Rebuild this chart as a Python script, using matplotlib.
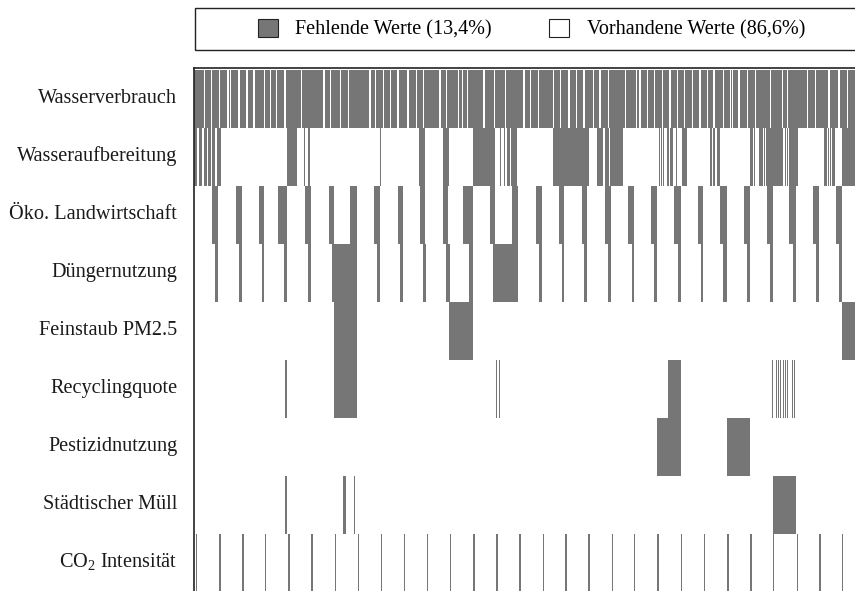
import matplotlib
matplotlib.use("Agg")
import matplotlib.pyplot as plt
from matplotlib.patches import Patch, Rectangle

plt.rcParams['font.family'] = ['Liberation Serif', 'DejaVu Serif']
plt.rcParams['mathtext.fontset'] = 'custom'
plt.rcParams['mathtext.rm'] = 'Liberation Serif'

GRAU = '#767676'
RAND = '#222222'

# 29 Laender x 23 Jahre, eine Spalte pro Beobachtung
N_OBS = 667

variablen = ['Wasserverbrauch', 'Wasseraufbereitung', 'Öko. Landwirtschaft',
             'Düngernutzung', 'Feinstaub PM2.5', 'Recyclingquote',
             'Pestizidnutzung', 'Städtischer Müll',
             r'CO$_\mathregular{2}$ Intensität']

legende = ['Fehlende Werte (13,4%)', 'Vorhandene Werte (86,6%)']

# Wasserverbrauch: fast alles fehlt, hier die wenigen vorhandenen Werte
wasser_vorhanden = [10, 16.7, 24.7, 33.3, 36, 44.3, 52.3, 59.3, 70, 76, 82, 90.3,
                    106.7, 129.3, 136, 146, 154, 175.3, 181, 188.7, 196, 203.3,
                    213.3, 222, 228.7, 245.3, 252, 264, 267.7, 273, 289.3, 300,
                    311, 329.3, 336, 343.7, 358.7, 366, 374.3, 381.7, 389.3,
                    398.7, 405.3, 413.7, 431, 442, 445.3, 452.7, 460, 467.7,
                    475.3, 482.7, 490, 497.7, 505.3, 512.7, 519.3, 528.7, 535.5,
                    537.5, 544.3, 552.7, 561, 576, 587.7, 592.7, 612.7, 621,
                    634.3, 644.3, 652.7]

# fehlende Werte als (von, bis) je Variable
aufbereitung_fehlt = [(0, 3), (4.5, 8), (9.5, 12.5), (14, 17), (18, 21), (22.5, 26.5),
                      (44.5, 45.1), (93.3, 102.7), (110, 110.6), (114.3, 116),
                      (186.3, 186.9), (225.3, 231), (248.7, 255.3), (279.3, 301),
                      (306, 307), (309.5, 310.5), (312.7, 316), (317, 323.3),
                      (348.8, 349.4), (358.7, 395.3), (403.3, 409.3), (410.5, 414.5),
                      (415.5, 429.3), (462.7, 463.2), (465, 465.5), (467, 467.5),
                      (469, 469.6), (472.7, 474.5), (476, 479.3), (482, 482.5),
                      (484.5, 485), (487.7, 493.3), (516, 517.5), (519, 521),
                      (523.3, 526), (529.5, 530.1), (556, 558.7), (559.5, 561),
                      (562.5, 563), (565.3, 568.7), (570, 570.6), (572, 589.3),
                      (591, 591.5), (593, 593.5), (595.3, 604.3), (624.5, 625),
                      (626.5, 627), (629.5, 632.5), (634, 634.5), (636, 636.5),
                      (638, 641), (647.7, 667)]
oeko_fehlt = [(17.7, 24.3), (41.7, 47.7), (65, 70), (83.7, 93.3), (111, 116.7),
              (134.7, 140), (156.3, 162.7), (180.3, 186), (203.7, 209.3), (226, 231),
              (249.3, 254.3), (269.3, 278.7), (296, 301), (317.7, 324.3), (342, 347.7),
              (365.3, 370.3), (387.7, 392.7), (411, 416.7), (434.3, 440), (456.7, 462.7),
              (480.3, 486.7), (503.7, 509.3), (526, 532.7), (550, 556), (573.3, 579.3),
              (595.3, 602), (618.7, 625), (642, 647.7)]
duenger_fehlt = [(21, 24.3), (45.3, 47.7), (67.7, 70), (90.3, 93.3), (113.7, 116.7),
                 (137.7, 162.7), (182.7, 186), (206, 209.3), (228.7, 232), (252, 256),
                 (275.3, 279.3), (298.7, 324.3), (345.3, 347.7), (367.7, 370.3),
                 (390.3, 393.3), (414.3, 417), (437.7, 440), (460, 462.7), (483.7, 486.7),
                 (506.7, 509.3), (529.3, 532.7), (552.7, 556), (576, 579.3), (598.7, 602),
                 (622, 625), (645.3, 648)]
feinstaub_fehlt = [(140, 162.7), (255.3, 279.3), (647.7, 667)]
recycling_fehlt = [(91, 92.5), (140, 162.7), (301.5, 302.6), (304.7, 305.8),
                   (474.3, 486.7), (493.5, 494.2), (578, 579), (580.5, 581.1),
                   (582, 583), (584, 584.5), (586, 587), (589, 589.5), (591, 592),
                   (593, 594), (595.5, 596.1), (597.5, 598.5), (599.5, 601),
                   (659.5, 660.2)]
pestizid_fehlt = [(209.5, 210.2), (463.3, 486.7), (532.7, 556)]
muell_fehlt = [(91, 92.5), (148.7, 151.8), (152.8, 153.3), (159.5, 161.3),
               (493.5, 494.2), (578.7, 601.7), (659.5, 660.2)]
co2_fehlt = [(x, x + 1.4) for x in
             [1.7, 25.3, 48.3, 71, 94.3, 117.3, 141, 163.7, 186.7, 210, 232.7, 256,
              279.3, 302.3, 325.3, 348.7, 371.3, 394.3, 417.7, 440, 463.3, 487, 510,
              533.3, 556.3, 578.7, 602.7, 625.3, 648]]

# Wasserverbrauch: Luecken zwischen den vorhandenen Werten
wasser_fehlt = []
start = 0
for v in wasser_vorhanden:
    wasser_fehlt.append((start, v))
    start = v + 1.2
wasser_fehlt.append((start, N_OBS))

zeilen = [wasser_fehlt, aufbereitung_fehlt, oeko_fehlt, duenger_fehlt, feinstaub_fehlt,
          recycling_fehlt, pestizid_fehlt, muell_fehlt, co2_fehlt]

fig = plt.figure(figsize=(8.55, 5.91), dpi=100)
ax = fig.add_axes([194 / 855, -0.5 / 591, N_OBS / 855, 524 / 591])

for i, z in enumerate(zeilen):
    ax.broken_barh([(s, e - s) for s, e in z], (i, 1), facecolors=GRAU,
                   edgecolor='none')

ax.set_xlim(0, N_OBS)
ax.set_ylim(9, -0.035)
ax.set_xticks([])
# Beschriftung leicht ueber der Zeilenmitte wie im Original
ax.set_yticks([i + 0.45 for i in range(len(variablen))])
ax.set_yticklabels(variablen, fontsize=14.6, color='#1a1a1a')
ax.tick_params(axis='y', length=0, pad=12)
for sp in ax.spines.values():
    sp.set_color(RAND)
    sp.set_linewidth(1.2)

# Legende oben in eigenem Rahmen
fig.add_artist(Rectangle((195 / 855, 1 - 50 / 591), 675 / 855, 42 / 591,
                         transform=fig.transFigure, fill=False,
                         edgecolor=RAND, lw=1.0))
griffe = [Patch(facecolor=GRAU, edgecolor=RAND, lw=0.8),
          Patch(facecolor='white', edgecolor=RAND, lw=0.8)]
fig.legend(griffe, legende, loc='center', bbox_to_anchor=(531.5 / 855, 1 - 29.5 / 591),
           ncol=2, frameon=False, fontsize=14.5, handlelength=1.0, handleheight=1.0,
           handletextpad=0.85, columnspacing=2.85, borderpad=0)

fig.savefig('out.png', dpi=100)
